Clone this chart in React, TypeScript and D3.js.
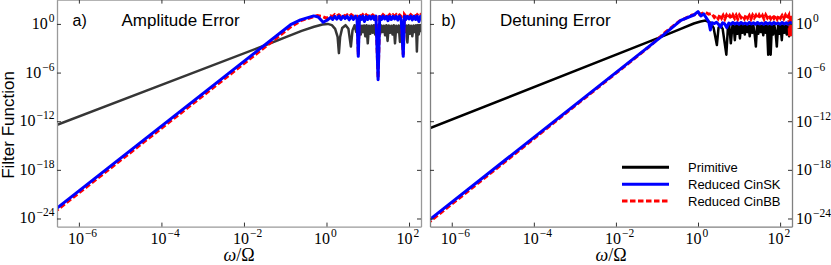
import React, { useRef, useEffect } from 'react';
import * as d3 from 'd3';

const W = 831;
const H = 265;

// axis settings
const xDomain = [2.95e-7, 1.95e2];
const yDomain = [1e-25, 1e3];
const xTicks = [1e-6, 1e-4, 1e-2, 1e0, 1e2];
const yTicks = [1e0, 1e-6, 1e-12, 1e-18, 1e-24];

const legendNames = ['Primitive', 'Reduced CinSK', 'Reduced CinBB'];

// a) Amplitude error  [omega/Omega, filter function]
const ampPrimitive = [
  [2.5e-7, 2.5e-13], [3.16e-2, 2.2e-3], [0.1, 2.2e-2], [0.25, 0.14], [0.5, 0.45], [0.8, 0.83],
  [1.07, 1.0], [1.35, 0.7], [1.62, 0.25], [1.86, 2.5e-2], [2.0, 2.5e-4], [2.14, 2.5e-2], [2.4, 0.32],
  [2.9, 0.7], [3.4, 0.25], [3.9, 1.6e-3], [4.27, 0.16], [4.8, 0.7],
  [5.25, 0.1], [5.62, 0.6], [6.03, 1e-2], [6.31, 0.7], [6.76, 0.05], [7.24, 0.6], [7.59, 0.1],
  [8.13, 0.65], [8.71, 0.03], [9.33, 0.7], [10, 4e-3], [10.7, 0.6], [11.5, 0.06], [12.3, 0.65],
  [13.2, 0.08], [14.1, 0.7], [15.1, 0.05], [16.2, 0.6], [17.4, 4e-3], [18.6, 0.7], [20.0, 0.06],
  [21.4, 0.65], [22.9, 0.1], [24.5, 0.6], [26.3, 0.04], [28.2, 0.7], [30.2, 8e-3], [32.4, 0.65],
  [34.7, 0.08], [37.2, 0.6], [39.8, 0.05], [42.7, 0.7], [45.7, 4e-3], [49.0, 0.6], [52.5, 0.1],
  [56.2, 0.65], [60.3, 6e-3], [64.6, 0.7], [69.2, 0.04], [74.1, 0.6], [79.4, 0.1], [85.1, 0.65],
  [91.2, 5e-3], [97.7, 0.7], [105, 0.06], [112, 0.6], [120, 0.03], [129, 0.65], [138, 0.1],
  [148, 0.7], [155, 4e-4], [163, 0.6], [172, 0.05], [182, 0.65], [200, 0.1],
];

const ampCinSK = [
  [2.5e-7, 1e-23], [0.135, 0.8], [0.234, 3.1], [0.49, 9.8], [0.63, 7.1], [0.83, 1.6], [1.07, 3.2],
  [1.26, 6.3], [1.41, 3.5], [1.58, 8.9], [1.78, 4], [2.0, 9], [2.24, 3.5], [2.51, 8.9], [2.82, 4.5],
  [3.16, 9], [3.55, 3.2], [3.98, 8.5], [4.47, 3.5], [5.01, 9], [5.5, 4], [5.89, 1e-4], [6.31, 8.9],
  [6.92, 3.5], [7.59, 9], [8.32, 2], [9.12, 8.5], [10, 3.5], [11, 9], [12, 4], [13.2, 8.9],
  [14.5, 3.5], [15.8, 9], [17.8, 1.3e-7], [19.5, 8.5], [21.4, 3.5], [23.4, 9], [25.7, 4],
  [28.2, 8.9], [30.9, 2.5], [33.9, 9], [37.2, 3.5], [40.7, 8.5], [44.7, 4], [49, 9], [53.7, 3],
  [58.9, 8.9], [64.6, 3.5], [72.4, 1e-4], [77.6, 9], [83.2, 3.5], [91.2, 8.5], [100, 4], [110, 9],
  [120, 3.2], [132, 8.9], [145, 3.5], [158, 9], [174, 2], [190, 8.5], [200, 4],
];

const ampCinBB = [
  [2.5e-7, 5.6e-24], [0.141, 0.5], [0.25, 2.8], [0.6, 10.5], [0.76, 8.9], [1.0, 5], [1.26, 10],
  [1.41, 8], [1.58, 14], [1.78, 9], [2.0, 13], [2.24, 8.5], [2.51, 14], [2.82, 9], [3.16, 13],
  [3.55, 8], [3.98, 14], [4.47, 9], [5.01, 13], [5.6, 8], [5.89, 1.6e-4], [6.2, 13], [6.92, 8.5],
  [7.59, 14], [8.32, 9], [9.12, 13], [10, 8], [11, 14], [12, 9], [13.2, 13], [14.5, 8.5], [15.8, 14],
  [17.8, 2e-7], [19.5, 13], [21.4, 8], [23.4, 14], [25.7, 9], [28.2, 13], [30.9, 8.5], [33.9, 14],
  [37.2, 9], [40.7, 13], [44.7, 8], [49, 14], [53.7, 9], [58.9, 13], [64.6, 8.5], [72.4, 1.6e-4],
  [77.6, 14], [83.2, 9], [91.2, 13], [100, 8], [110, 14], [120, 9], [132, 13], [145, 8.5], [158, 14],
  [174, 9], [190, 13], [200, 8],
];

// b) Detuning error
const detPrimitive = [
  [2.5e-7, 1e-13], [0.126, 2.5e-2], [0.38, 0.25], [0.79, 1.12], [1.15, 2], [1.51, 2.57], [2.0, 1.41],
  [2.4, 0.32], [2.88, 2.5e-3], [3.16, 0.32], [3.47, 0.76], [3.98, 0.25], [4.9, 1.6e-4], [5.37, 0.5],
  [5.75, 0.7], [6.3, 4e-3], [6.9, 0.63], [7.4, 0.56], [7.9, 1e-2],
  [8.5, 0.7], [9.1, 0.06], [9.8, 0.65], [10.5, 1.6e-2], [11.2, 0.7], [12, 0.08], [12.9, 0.6],
  [13.8, 0.05], [14.8, 0.7], [15.8, 0.1], [17, 0.65], [18.2, 0.03], [19.5, 0.7], [20.9, 0.08],
  [22.4, 0.6], [24, 0.05], [25.7, 1.6e-3], [27.5, 0.7], [29.5, 0.06], [31.6, 0.65], [33.9, 0.1],
  [36.3, 0.6], [38.9, 0.04], [41.7, 0.7], [44.7, 0.08], [47.9, 0.65], [51.3, 1.6e-4], [55, 0.6],
  [58.9, 1.6e-4], [63.1, 0.7], [67.6, 0.05], [72.4, 0.65], [77.6, 0.1], [83.2, 1.6e-3], [89.1, 0.6],
  [95.5, 0.06], [102, 0.7], [110, 0.01], [117, 0.65], [126, 0.08], [135, 0.6], [145, 0.05],
  [155, 0.7], [166, 0.03], [178, 0.65], [190, 0.1], [200, 0.6],
];

const detCinSK = [
  [2.5e-7, 4e-25], [0.126, 2.5e-2], [0.38, 2.8], [0.79, 12.6], [1.0, 33], [1.17, 9.8], [1.38, 17],
  [1.82, 1.95], [2.0, 0.18], [2.19, 1.4], [2.51, 1.1], [2.82, 1.6], [3.16, 0.9], [3.55, 0.4],
  [3.98, 1.4], [4.47, 1.0], [5.01, 0.35], [5.62, 1.3], [6.31, 0.9], [7.08, 1.5], [7.94, 1.0],
  [8.91, 1.4], [10, 0.9], [11.2, 1.5], [12.6, 1.0], [14.1, 1.3], [15.8, 0.9], [17.8, 1.5], [20, 1.0],
  [22.4, 1.4], [25.1, 0.9], [28.2, 1.5], [31.6, 1.0], [35.5, 1.3], [39.8, 0.9], [44.7, 1.5],
  [50.1, 1.0], [56.2, 1.4], [63.1, 0.9], [70.8, 1.5], [79.4, 1.0], [89.1, 1.3], [100, 0.9],
  [112, 1.5], [126, 1.0], [141, 1.4], [158, 0.9], [178, 1.5], [200, 1.0],
];

const detCinBB = [
  [2.5e-7, 2.2e-25], [6.3e-2, 1.4e-3], [0.166, 0.11], [0.355, 2.2], [0.72, 12.6], [1.12, 15.8],
  [1.51, 28], [1.82, 15.8], [2.14, 20], [2.5, 6.3], [2.8, 11], [3.1, 4.5], [3.4, 12], [3.75, 5],
  [4.1, 11.5], [4.5, 4], [4.95, 12], [5.4, 6], [5.9, 11], [6.5, 4.5], [7.1, 12], [7.8, 5], [8.5, 11.5],
  [9.3, 4], [10.2, 12], [11.2, 6], [12.3, 11], [13.5, 4.5], [14.8, 12.5], [16.2, 5], [17.8, 11],
  [19.5, 4], [21.4, 12], [23.4, 5.5], [25.7, 11.5], [28.2, 4.5], [30.9, 12], [33.9, 5], [37.2, 11],
  [40.7, 4], [44.7, 12.5], [49, 5.5], [53.7, 11], [58.9, 4.5], [64.6, 12], [70.8, 5], [77.6, 11.5],
  [85.1, 4], [93.3, 12], [102, 5], [112, 11], [123, 4.5], [135, 12], [148, 5], [162, 11], [170, 3e-2],
  [178, 10], [186, 3e-2], [195, 11], [200, 5],
];

const panels = [
  {
    label: 'a)', title: 'Amplitude Error', left: 57, right: 421, labelSide: 'left',
    primitive: ampPrimitive, cinsk: ampCinSK, cinbb: ampCinBB,
    primColor: '#363636', spine: '#9a9a9a', labelX: 72.5, titleX: 121.5, legend: false,
  },
  {
    label: 'b)', title: 'Detuning Error', left: 430, right: 792, labelSide: 'right',
    primitive: detPrimitive, cinsk: detCinSK, cinbb: detCinBB,
    primColor: '#000', spine: '#808080', labelX: 441.5, titleX: 500, legend: true,
  },
];

const SANS = 'Liberation Sans, Arial, sans-serif';
const SERIF = 'Liberation Serif, Times New Roman, serif';

// write 10^n as text with a superscript
const expLabel = (g, x, y, v, anchor) => {
  const e = Math.round(Math.log10(v));
  const t = g.append('text')
    .attr('x', x).attr('y', y)
    .attr('text-anchor', anchor)
    .style('font-family', SERIF)
    .style('font-size', '16px')
    .attr('fill', '#000');
  t.append('tspan').text('10');
  t.append('tspan')
    .attr('dy', -7)
    .attr('dx', 1)
    .style('font-size', '11.5px')
    .text(e < 0 ? '\u2212' + Math.abs(e) : String(e));
};

const App = () => {
  const svgRef = useRef(null);

  useEffect(() => {
    const svg = d3.select(svgRef.current);
    svg.selectAll('*').remove();

    const top = -0.4;
    const bottom = 226.6;
    const y = d3.scaleLog().domain(yDomain).range([bottom, top]);
    const defs = svg.append('defs');

    panels.forEach((p, i) => {
      const x = d3.scaleLog().domain(xDomain).range([p.left, p.right]);
      const g = svg.append('g');

      defs.append('clipPath').attr('id', `clip${i}`)
        .append('rect')
        .attr('x', p.left).attr('y', top)
        .attr('width', p.right - p.left).attr('height', bottom - top);

      const line = d3.line().x(d => x(d[0])).y(d => y(d[1]));
      const plot = g.append('g').attr('clip-path', `url(#clip${i})`);

      plot.append('path').datum(p.primitive)
        .attr('d', line).attr('fill', 'none')
        .attr('stroke', p.primColor).attr('stroke-width', 2.5)
        .attr('stroke-linejoin', 'round');
      plot.append('path').datum(p.cinbb)
        .attr('d', line).attr('fill', 'none')
        .attr('stroke', '#ff0000').attr('stroke-width', 3)
        .attr('stroke-dasharray', '5.5,2.5');
      plot.append('path').datum(p.cinsk)
        .attr('d', line).attr('fill', 'none')
        .attr('stroke', '#0000ff').attr('stroke-width', 3)
        .attr('stroke-linejoin', 'round');

      // axes: inward ticks, no labels (labels drawn below)
      const styleAxis = a => {
        a.select('.domain').attr('stroke', p.spine).attr('stroke-width', 1.3);
        a.selectAll('.tick line').attr('stroke', '#333').attr('stroke-width', 1);
      };
      g.append('g').attr('transform', `translate(0,${bottom})`)
        .call(d3.axisBottom(x).tickValues(xTicks).tickSizeInner(-4).tickSizeOuter(0).tickFormat(() => ''))
        .call(styleAxis);
      g.append('g').attr('transform', `translate(0,${top})`)
        .call(d3.axisTop(x).tickValues(xTicks).tickSizeInner(-4).tickSizeOuter(0).tickFormat(() => ''))
        .call(styleAxis);
      g.append('g').attr('transform', `translate(${p.left},0)`)
        .call(d3.axisLeft(y).tickValues(yTicks).tickSizeInner(-4).tickSizeOuter(0).tickFormat(() => ''))
        .call(styleAxis);
      g.append('g').attr('transform', `translate(${p.right},0)`)
        .call(d3.axisRight(y).tickValues(yTicks).tickSizeInner(-4).tickSizeOuter(0).tickFormat(() => ''))
        .call(styleAxis);

      // tick labels
      xTicks.forEach(t => {
        const e = Math.log10(t);
        expLabel(g, x(t) - (e < 0 ? 11 : 12.5), 243.5, t, 'start');
      });
      yTicks.forEach(t => {
        if (p.labelSide === 'left') expLabel(g, p.left - 2.5, y(t) + 5, t, 'end');
        else expLabel(g, p.right + 4, y(t) + 5.5, t, 'start');
      });

      // x label
      const xl = g.append('text')
        .attr('x', (p.left + p.right) / 2).attr('y', 261)
        .attr('text-anchor', 'middle')
        .style('font-family', SERIF).style('font-size', '18px');
      xl.append('tspan').style('font-style', 'italic').text('\u03c9');
      xl.append('tspan').text('/\u03a9');

      // panel tags and titles
      g.append('text').attr('x', p.labelX).attr('y', 26)
        .style('font-family', SANS).style('font-size', '16px').text(p.label);
      g.append('text').attr('x', p.titleX).attr('y', 26)
        .style('font-family', SANS).style('font-size', '17px').text(p.title);

      if (p.legend) {
        const items = [
          { name: legendNames[0], color: '#000', dash: null },
          { name: legendNames[1], color: '#0000ff', dash: null },
          { name: legendNames[2], color: '#ff0000', dash: '5.5,2.5' },
        ];
        items.forEach((it, k) => {
          const ly = 167.3 + k * 16.9;
          g.append('line')
            .attr('x1', 622).attr('x2', 669).attr('y1', ly).attr('y2', ly)
            .attr('stroke', it.color).attr('stroke-width', 3)
            .attr('stroke-dasharray', it.dash);
          g.append('text').attr('x', 688).attr('y', ly).attr('dy', '0.35em')
            .style('font-family', SANS).style('font-size', '13px').text(it.name);
        });
      }
    });

    // shared y label
    svg.append('text')
      .attr('transform', 'translate(14,125) rotate(-90)')
      .attr('text-anchor', 'middle')
      .style('font-family', SANS).style('font-size', '17px')
      .text('Filter Function');
  }, []);

  return (
    <svg
      ref={svgRef}
      width={W}
      height={H}
      style={{ position: 'absolute', left: 0, top: 0, background: '#fff' }}
    />
  );
};

export default App;
